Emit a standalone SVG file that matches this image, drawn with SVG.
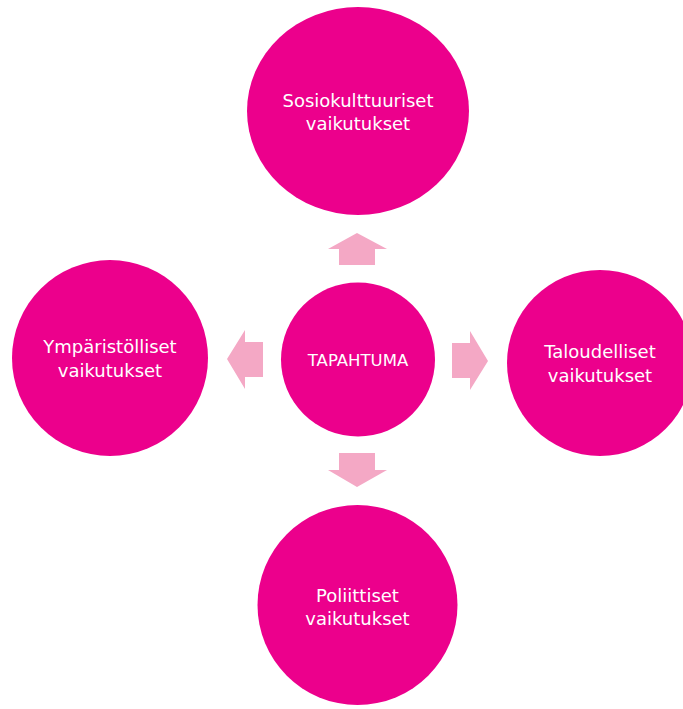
<svg xmlns="http://www.w3.org/2000/svg" width="683" height="709" viewBox="0 0 683 709">
  <style>
    .node { fill: #EC008C; }
    .arrow { fill: #F4A8C5; }
    .label { fill: #FFFFFF; font-family: "DejaVu Sans", Verdana, sans-serif; font-size: 18px; text-anchor: middle; }
    .center-label { font-size: 16.5px; }
  </style>
  <rect width="683" height="709" fill="#FFFFFF"/>
  <g id="connectors">
    <polygon class="arrow" points="357,233 387,249 375,249 375,265 339,265 339,249 328,249"/>
    <polygon class="arrow" points="227,359 245,330 245,342 263,342 263,377 245,377 245,389"/>
    <polygon class="arrow" points="488,361 470,331 470,343 452,343 452,378 470,378 470,390"/>
    <polygon class="arrow" points="357,487 387,470 375,470 375,453 339,453 339,470 328,470"/>
  </g>
  <g id="node-top">
    <ellipse class="node" cx="358" cy="111" rx="111" ry="104"/>
    <text class="label" x="358" y="107">Sosiokulttuuriset</text>
    <text class="label" x="358" y="130">vaikutukset</text>
  </g>
  <g id="node-left">
    <circle class="node" cx="110" cy="358" r="98"/>
    <text class="label" x="110" y="353">Ympäristölliset</text>
    <text class="label" x="110" y="377">vaikutukset</text>
  </g>
  <g id="node-right">
    <circle class="node" cx="600" cy="363" r="93"/>
    <text class="label" x="600" y="358">Taloudelliset</text>
    <text class="label" x="600" y="382">vaikutukset</text>
  </g>
  <g id="node-bottom">
    <circle class="node" cx="357.5" cy="605" r="100"/>
    <text class="label" x="357.5" y="602">Poliittiset</text>
    <text class="label" x="357.5" y="625">vaikutukset</text>
  </g>
  <g id="node-center">
    <circle class="node" cx="358" cy="359.5" r="77"/>
    <text class="label center-label" x="358" y="366">TAPAHTUMA</text>
  </g>
</svg>
